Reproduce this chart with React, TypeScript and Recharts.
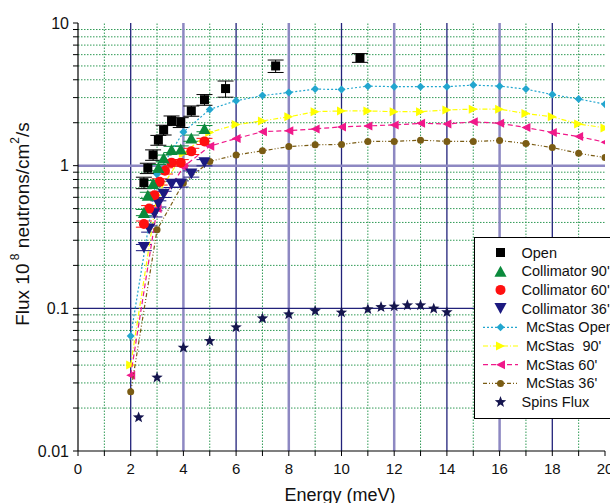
import React from 'react';
import { ScatterChart, Scatter, XAxis, YAxis, ReferenceLine, ErrorBar } from 'recharts';

// measured data (flux in 10^8 n/cm2/s)
const openEnergy = [2.5, 2.65, 2.85, 3.05, 3.25, 3.55, 3.9, 4.3, 4.8, 5.6, 7.5, 10.7];
const openFlux = [0.76, 0.96, 1.19, 1.51, 1.78, 2.07, 2.01, 2.42, 2.9, 3.47, 5.0, 5.7];
const openErr = [0.07, 0.08, 0.1, 0.12, 0.14, 0.16, 0.16, 0.2, 0.25, 0.45, 0.5, 0.4];

const col90Energy = [2.5, 2.65, 2.85, 3.05, 3.25, 3.55, 3.9, 4.3, 4.8];
const col90Flux = [0.47, 0.62, 0.75, 0.97, 1.13, 1.3, 1.31, 1.56, 1.82];

const col60Energy = [2.5, 2.7, 2.9, 3.1, 3.3, 3.55, 3.9, 4.3, 4.8];
const col60Flux = [0.39, 0.5, 0.62, 0.77, 0.92, 1.05, 1.05, 1.26, 1.48];

const col36Energy = [2.5, 2.7, 2.9, 3.05, 3.25, 3.55, 3.9, 4.3, 4.8];
const col36Flux = [0.267, 0.36, 0.46, 0.54, 0.63, 0.74, 0.745, 0.875, 1.05];

// McStas simulations
const mcEnergy = [2, 3, 4, 5, 6, 7, 8, 9, 10, 11, 12, 13, 14, 15, 16, 17, 18, 19, 20];
const mcOpen = [0.064, 0.87, 1.72, 2.48, 2.85, 3.1, 3.26, 3.44, 3.42, 3.61, 3.58, 3.58, 3.58, 3.67, 3.61, 3.44, 3.15, 2.93, 2.7];
const mc90 = [0.04, 0.62, 1.22, 1.71, 1.94, 2.06, 2.2, 2.39, 2.42, 2.42, 2.39, 2.39, 2.46, 2.49, 2.49, 2.32, 2.2, 1.96, 1.84];
const mc60 = [0.034, 0.5, 0.98, 1.37, 1.55, 1.73, 1.76, 1.81, 1.87, 1.9, 1.93, 1.98, 1.96, 2.03, 1.98, 1.85, 1.71, 1.6, 1.46];
const mc36 = [0.026, 0.355, 0.757, 1.07, 1.19, 1.27, 1.36, 1.4, 1.41, 1.48, 1.48, 1.51, 1.48, 1.48, 1.5, 1.43, 1.34, 1.22, 1.14];

const spinsEnergy = [2.3, 3, 4, 5, 6, 7, 8, 9, 10, 11, 11.5, 12, 12.5, 13, 13.5, 14];
const spinsFlux = [0.0172, 0.0327, 0.053, 0.059, 0.0736, 0.085, 0.0908, 0.0958, 0.0935, 0.0985, 0.102, 0.103, 0.105, 0.105, 0.0995, 0.094];

const xTicks = [0, 1, 2, 3, 4, 5, 6, 7, 8, 9, 10, 11, 12, 13, 14, 15, 16, 17, 18, 19, 20];
const yTicks = [
  0.01, 0.02, 0.03, 0.04, 0.05, 0.06, 0.07, 0.08, 0.09,
  0.1, 0.2, 0.3, 0.4, 0.5, 0.6, 0.7, 0.8, 0.9,
  1, 2, 3, 4, 5, 6, 7, 8, 9, 10,
];
const yMajor = [0.01, 0.1, 1, 10];
const xMinorGrid = [1, 3, 5, 7, 9, 11, 13, 15, 17, 19];
const xDarkGrid = [2, 6, 10, 14, 18];
const xLightGrid = [4, 8, 12, 16];
const yMinorGrid = [0.02, 0.03, 0.04, 0.05, 0.06, 0.07, 0.08, 0.09, 0.2, 0.3, 0.4, 0.5, 0.6, 0.7, 0.8, 0.9, 2, 3, 4, 5, 6, 7, 8, 9];

const legendNames = [
  'Open',
  "Collimator 90'",
  "Collimator 60'",
  "Collimator 36'",
  'McStas Open',
  "McStas \u00a090'",
  "McStas 60'",
  "McStas 36'",
  'Spins Flux',
];

const zip = (xs: number[], ys: number[], es?: number[]) =>
  xs.map((x, i) => (es ? { x, y: ys[i], err: es[i] } : { x, y: ys[i] }));

const openData = zip(openEnergy, openFlux, openErr);
const col90Data = zip(col90Energy, col90Flux, col90Flux.map((v) => v * 0.05));
const col60Data = zip(col60Energy, col60Flux, col60Flux.map((v) => v * 0.05));
const col36Data = zip(col36Energy, col36Flux, col36Flux.map((v) => v * 0.05));
const mcOpenData = zip(mcEnergy, mcOpen);
const mc90Data = zip(mcEnergy, mc90);
const mc60Data = zip(mcEnergy, mc60);
const mc36Data = zip(mcEnergy, mc36);
const spinsData = zip(spinsEnergy, spinsFlux);

const FONT = '"Liberation Sans", Arial, Helvetica, sans-serif';
const GREEN_DOT = '#2f9a55';

const C = {
  open: '#000000',
  col90: '#0b8a3c',
  col60: '#ff1010',
  col36: '#1c1a80',
  mcOpen: '#22a6cf',
  mc90: '#ffff00',
  mc60: '#f0198a',
  mc36: '#7a5c14',
  spins: '#15154e',
};

type Kind = 'square' | 'up' | 'down' | 'left' | 'right' | 'circle' | 'diamond' | 'star';

function Glyph({ kind, cx, cy, size, color }: { kind: Kind; cx: number; cy: number; size: number; color: string }) {
  const h = size / 2;
  switch (kind) {
    case 'square':
      return <rect x={cx - h} y={cy - h} width={size} height={size} fill={color} />;
    case 'circle':
      return <circle cx={cx} cy={cy} r={h} fill={color} />;
    case 'up':
      return <polygon points={`${cx - h * 1.1},${cy + h} ${cx + h * 1.1},${cy + h} ${cx},${cy - h}`} fill={color} />;
    case 'down':
      return <polygon points={`${cx - h * 1.1},${cy - h} ${cx + h * 1.1},${cy - h} ${cx},${cy + h}`} fill={color} />;
    case 'right':
      return <polygon points={`${cx - h},${cy - h} ${cx - h},${cy + h} ${cx + h},${cy}`} fill={color} />;
    case 'left':
      return <polygon points={`${cx + h},${cy - h} ${cx + h},${cy + h} ${cx - h},${cy}`} fill={color} />;
    case 'diamond':
      return <polygon points={`${cx},${cy - h} ${cx + h},${cy} ${cx},${cy + h} ${cx - h},${cy}`} fill={color} />;
    case 'star': {
      const pts: string[] = [];
      for (let i = 0; i < 10; i++) {
        const r = i % 2 === 0 ? h : h * 0.42;
        const a = -Math.PI / 2 + (i * Math.PI) / 5;
        pts.push(`${cx + r * Math.cos(a)},${cy + r * Math.sin(a)}`);
      }
      return <polygon points={pts.join(' ')} fill={color} />;
    }
  }
  return null;
}

const shape = (kind: Kind, size: number, color: string) => (props: any) =>
  props.cx == null ? <g /> : <Glyph kind={kind} cx={props.cx} cy={props.cy} size={size} color={color} />;

function XTick(props: any) {
  const { x, y, payload } = props;
  if (payload.value % 2 !== 0) return <g />;
  return (
    <text x={x} y={y + 16} textAnchor="middle" fontSize={15} fontFamily={FONT} fill="#111">
      {payload.value}
    </text>
  );
}

function YTick(props: any) {
  const { x, y, payload } = props;
  if (!yMajor.includes(payload.value)) return <g />;
  return (
    <text x={x} y={y + 5.5} textAnchor="end" fontSize={16} fontFamily={FONT} fill="#111">
      {String(payload.value)}
    </text>
  );
}

const legendSymbols: { kind: Kind; color: string; size: number; dash?: string }[] = [
  { kind: 'square', color: C.open, size: 9 },
  { kind: 'up', color: C.col90, size: 11 },
  { kind: 'circle', color: C.col60, size: 10 },
  { kind: 'down', color: C.col36, size: 11 },
  { kind: 'diamond', color: C.mcOpen, size: 8, dash: '2 2' },
  { kind: 'right', color: C.mc90, size: 9, dash: '5 2 1 2' },
  { kind: 'left', color: C.mc60, size: 9, dash: '5 3' },
  { kind: 'circle', color: C.mc36, size: 7, dash: '4 2 1 2 1 2' },
  { kind: 'star', color: C.spins, size: 12 },
];

function LegendBox() {
  return (
    <svg width={610} height={503} style={{ position: 'absolute', left: 0, top: 0, pointerEvents: 'none' }}>
      <rect x={474.5} y={237.5} width={150} height={181} fill="#fff" stroke="#000" strokeWidth={1} />
      {legendNames.map((name, i) => {
        const s = legendSymbols[i];
        const y = 252.5 + i * 18.7;
        return (
          <g key={name}>
            {s.dash ? (
              <line x1={483} y1={y} x2={518} y2={y} stroke={s.color} strokeWidth={1.2} strokeDasharray={s.dash} />
            ) : null}
            <Glyph kind={s.kind} cx={500.5} cy={y} size={s.size} color={s.color} />
            <text x={s.dash ? 526 : 521.5} y={y + 5} fontSize={14.5} fontFamily={FONT} fill="#111">
              {name}
            </text>
          </g>
        );
      })}
      <text
        x={24}
        y={224}
        textAnchor="middle"
        fontSize={19}
        fontFamily={FONT}
        fill="#111"
        transform="rotate(-90 24 224)"
        dominantBaseline="middle"
      >
        Flux 10
        <tspan dy={-8} fontSize={12}>
          {' '}
          8
        </tspan>
        <tspan dy={8}> neutrons/cm</tspan>
        <tspan dy={-8} fontSize={12}>
          2
        </tspan>
        <tspan dy={8}>/s</tspan>
      </text>
      <text x={340} y={501} textAnchor="middle" fontSize={18} fontFamily={FONT} fill="#111">
        Energy (meV)
      </text>
    </svg>
  );
}

export default function App() {
  return (
    <div style={{ position: 'absolute', left: 0, top: 0, width: 610, height: 503, background: '#fff' }}>
      <ScatterChart width={610} height={503} margin={{ top: 23, right: 5, bottom: 0, left: 0 }}>
        <XAxis
          type="number"
          dataKey="x"
          domain={[0, 20]}
          ticks={xTicks}
          interval={0}
          height={52}
          tickSize={5}
          tick={<XTick />}
          axisLine={{ stroke: '#000', strokeWidth: 1.2 }}
          tickLine={{ stroke: '#000' }}
          allowDataOverflow
        />
        <YAxis
          type="number"
          dataKey="y"
          scale="log"
          domain={[0.01, 10]}
          ticks={yTicks}
          interval={0}
          width={78}
          tickSize={5}
          tickMargin={4}
          tick={<YTick />}
          axisLine={{ stroke: '#000', strokeWidth: 1.2 }}
          tickLine={{ stroke: '#000' }}
          allowDataOverflow
        />
        {yMinorGrid.map((v) => (
          <ReferenceLine key={`ym${v}`} y={v} stroke={GREEN_DOT} strokeDasharray="1.5 1.5" strokeWidth={1} />
        ))}
        {xMinorGrid.map((v) => (
          <ReferenceLine key={`xm${v}`} x={v} stroke={GREEN_DOT} strokeDasharray="1.5 1.5" strokeWidth={1} />
        ))}
        {xDarkGrid.map((v) => (
          <ReferenceLine key={`xd${v}`} x={v} stroke="#22227a" strokeWidth={1.3} />
        ))}
        {xLightGrid.map((v) => (
          <ReferenceLine key={`xl${v}`} x={v} stroke="#8d88c2" strokeWidth={2.5} />
        ))}
        <ReferenceLine y={0.1} stroke="#22227a" strokeWidth={1.3} />
        <ReferenceLine y={1} stroke="#8d88c2" strokeWidth={2.5} />

        <Scatter
          data={mcOpenData}
          isAnimationActive={false}
          line={{ stroke: C.mcOpen, strokeWidth: 1.2, strokeDasharray: '2 2' }}
          shape={shape('diamond', 8, C.mcOpen)}
        />
        <Scatter
          data={mc90Data}
          isAnimationActive={false}
          line={{ stroke: C.mc90, strokeWidth: 1.2, strokeDasharray: '5 2 1 2' }}
          shape={shape('right', 9, C.mc90)}
        />
        <Scatter
          data={mc60Data}
          isAnimationActive={false}
          line={{ stroke: C.mc60, strokeWidth: 1.2, strokeDasharray: '5 3' }}
          shape={shape('left', 9, C.mc60)}
        />
        <Scatter
          data={mc36Data}
          isAnimationActive={false}
          line={{ stroke: C.mc36, strokeWidth: 1.2, strokeDasharray: '4 2 1 2 1 2' }}
          shape={shape('circle', 7, C.mc36)}
        />
        <Scatter data={col36Data} isAnimationActive={false} shape={shape('down', 11, C.col36)}>
          <ErrorBar dataKey="err" direction="y" width={8} stroke={C.col36} strokeWidth={1} />
        </Scatter>
        <Scatter data={col60Data} isAnimationActive={false} shape={shape('circle', 10, C.col60)}>
          <ErrorBar dataKey="err" direction="y" width={8} stroke={C.col60} strokeWidth={1} />
        </Scatter>
        <Scatter data={col90Data} isAnimationActive={false} shape={shape('up', 11, C.col90)}>
          <ErrorBar dataKey="err" direction="y" width={8} stroke={C.col90} strokeWidth={1} />
        </Scatter>
        <Scatter data={openData} isAnimationActive={false} shape={shape('square', 9, C.open)}>
          <ErrorBar dataKey="err" direction="y" width={8} stroke="#000" strokeWidth={1} />
        </Scatter>
        <Scatter data={spinsData} isAnimationActive={false} shape={shape('star', 12, C.spins)} />
      </ScatterChart>
      <LegendBox />
    </div>
  );
}
